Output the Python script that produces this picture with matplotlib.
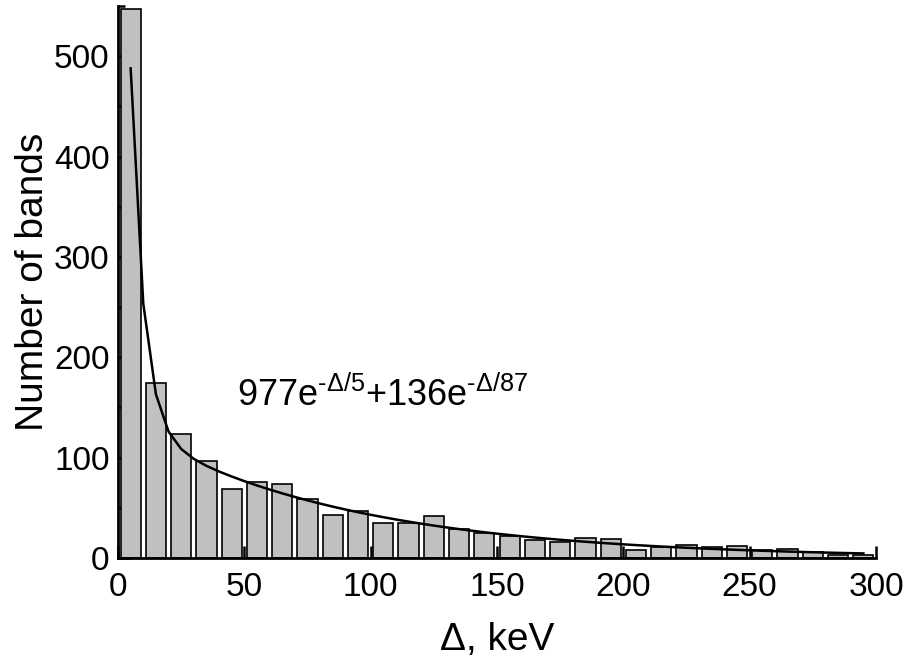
# Histogram of band spacings with a double-exponential fit

import numpy as np
import matplotlib
matplotlib.use('Agg')
import matplotlib.pyplot as plt
from matplotlib.ticker import MultipleLocator

plt.rcParams['font.family'] = ['Liberation Sans', 'DejaVu Sans']
plt.rcParams['mathtext.fontset'] = 'custom'
plt.rcParams['mathtext.rm'] = 'Liberation Sans'
plt.rcParams['mathtext.it'] = 'Liberation Sans'
plt.rcParams['mathtext.sf'] = 'Liberation Sans'

# bin left edges (keV), bin width 10
bin_left = np.arange(0, 300, 10)
counts = [547, 174, 124, 97, 69, 76, 74, 59, 43, 47,
          35, 35, 42, 29, 25, 22, 18, 16, 20, 19,
          8, 11, 13, 11, 12, 8, 9, 6, 3, 3]

# fit parameters shown on the chart
a1, t1 = 977, 5
a2, t2 = 136, 87
fit_x = np.arange(5, 296, 5)
fit_y = a1 * np.exp(-fit_x / t1) + a2 * np.exp(-fit_x / t2)

fig = plt.figure(figsize=(9.17, 6.6), dpi=100)
ax = fig.add_axes([0.1287, 0.1545, 0.8266, 0.8365])

ax.bar(bin_left + 5, counts, width=8, color='#c0c0c0',
       edgecolor='black', linewidth=1.2, zorder=2)
ax.plot(fit_x, fit_y, color='black', linewidth=1.8, zorder=3)

label = (r'$\mathregular{977e^{\text{-}\Delta/%d}{+}136e^{\text{-}\Delta/%d}}$'
         % (t1, t2))
ax.text(47, 152, label, fontsize=26, ha='left', va='baseline')

ax.set_xlim(0, 300)
ax.set_ylim(0, 550)
ax.xaxis.set_major_locator(MultipleLocator(50))
ax.xaxis.set_minor_locator(MultipleLocator(25))
ax.yaxis.set_major_locator(MultipleLocator(100))
ax.yaxis.set_minor_locator(MultipleLocator(50))

for s in ['top', 'right']:
    ax.spines[s].set_visible(False)
for s in ['left', 'bottom']:
    ax.spines[s].set_linewidth(2)

ax.tick_params(which='major', direction='in', length=9, width=1.8,
               labelsize=24, pad=6)
ax.tick_params(axis='x', which='major', pad=10)
ax.tick_params(which='minor', direction='in', length=5, width=1.8)

ax.set_xlabel('Δ, keV', fontsize=28, labelpad=14)
ax.set_ylabel('Number of bands', fontsize=28, labelpad=2)

fig.savefig('out.png', dpi=100)
